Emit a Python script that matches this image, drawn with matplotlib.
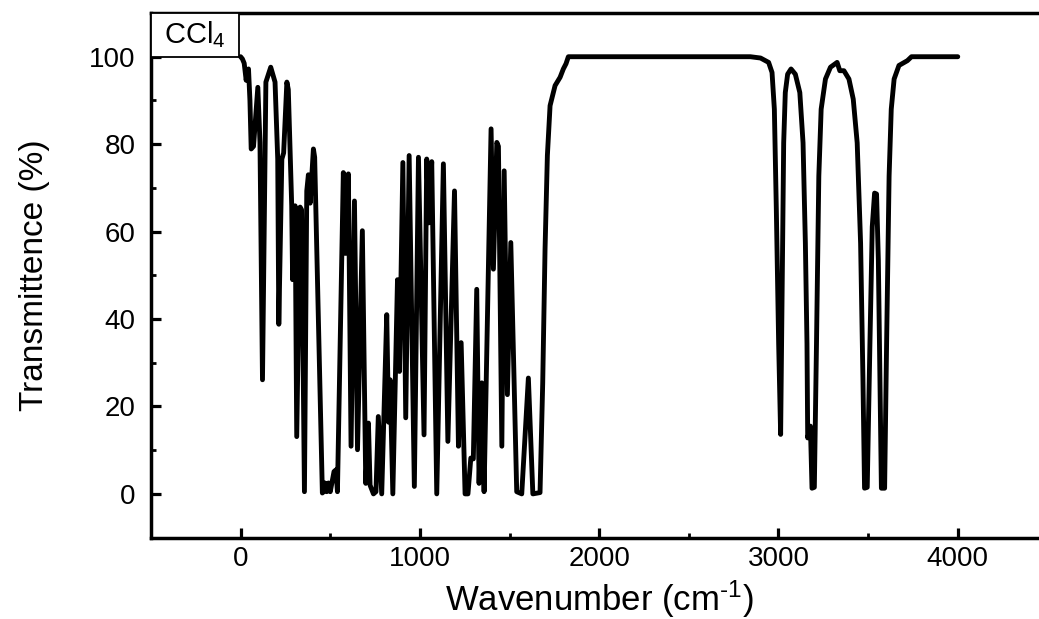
import matplotlib
matplotlib.use("Agg")
import matplotlib.pyplot as plt
from matplotlib.patches import Rectangle
from matplotlib.ticker import MultipleLocator

plt.rcParams['font.family'] = ['Liberation Sans', 'DejaVu Sans']
plt.rcParams['mathtext.fontset'] = 'custom'
plt.rcParams['mathtext.rm'] = 'Liberation Sans'
plt.rcParams['mathtext.it'] = 'Liberation Sans:italic'

# IR spectrum of CCl4 (wavenumber in cm-1, T in %)
wavenumber = [
    0, 10, 20, 31, 38, 44, 52, 59, 72, 96, 108, 122, 141, 168, 192, 207, 213,
    230, 240, 258, 266, 285, 290, 304, 313, 332, 340, 356, 369, 378, 388, 406,
    413, 456, 462, 470, 480, 490, 500, 521, 532, 540, 573, 585, 601, 616, 635,
    652, 679, 698, 713, 722, 741, 755, 768, 787, 815, 825, 834, 849, 875, 886,
    905, 921, 940, 969, 992, 1023, 1038, 1050, 1066, 1094, 1131, 1156, 1193,
    1215, 1230, 1252, 1268, 1284, 1298, 1317, 1330, 1345, 1358, 1397, 1410,
    1429, 1438, 1457, 1470, 1488, 1507, 1540, 1568, 1605, 1630, 1670, 1685,
    1698, 1711, 1726, 1754, 1782, 1800, 1815, 1828, 2843, 2900, 2945, 2964,
    2977, 2988, 3001, 3012, 3019, 3029, 3038, 3051, 3070, 3094, 3119, 3137,
    3150, 3159, 3163, 3178, 3187, 3200, 3212, 3225, 3238, 3262, 3290, 3327,
    3342, 3365, 3393, 3417, 3439, 3458, 3471, 3480, 3495, 3510, 3523, 3536,
    3547, 3557, 3566, 3574, 3592, 3603, 3617, 3629, 3645, 3672, 3719, 3742,
    4000,
]
transmittance = [
    100, 99.5, 98.5, 94.6, 97.0, 97.2, 90, 78.9, 79.5, 93.0, 80.4, 26.1, 94.2,
    97.6, 94.2, 76.6, 38.8, 76.6, 78, 94.2, 92.5, 65.9, 49, 65.9, 13.1, 65.6,
    65.0, 0.5, 69.3, 73, 66.5, 78.9, 77, 0.2, 0.5, 2.5, 0.5, 2.5, 0.5, 5.1,
    5.5, 0.5, 73.5, 55, 73.2, 10.9, 67, 10.1, 60.2, 2.4, 16.2, 2, 0, 0.5,
    17.7, 0, 41, 16.4, 26.1, 0, 49, 28, 75.8, 17.4, 77.4, 1.7, 77, 13.5,
    76.6, 62, 76, 0, 75.5, 12, 69.3, 10.9, 34.6, 0, 0, 8.2, 8, 46.8, 2.4,
    25.4, 0.5, 83.5, 51.4, 80.4, 79.5, 10.9, 73.9, 22.7, 57.5, 0.5, 0, 26.5,
    0, 0.3, 25.4, 56, 77.4, 88.8, 93.4, 95.3, 97.2, 98.4, 100, 100, 99.7,
    98.7, 96.4, 88, 65, 34.3, 13.6, 42, 80.3, 91.8, 96, 97.2, 96, 91.8, 80.3,
    57.3, 34.3, 12.8, 15.5, 1.3, 1.5, 34.3, 72.7, 88, 94.9, 97.6, 98.7, 96.8,
    96.8, 94.9, 90.3, 80.3, 57.3, 26.6, 1.3, 1.5, 34.3, 61.1, 68.8, 68.6,
    53.5, 26.6, 1.3, 1.3, 34.3, 72.7, 88, 94.9, 98, 99.1, 100, 100,
]

label_text = r'CCl$_4$'

fig = plt.figure(figsize=(10.39, 6.19), dpi=100)
# right edge of the axes lies past the figure edge, as in the cropped original
ax = fig.add_axes([0.1453, 0.1315, 0.8628, 0.8475])

ax.plot(wavenumber, transmittance, color='black', lw=3.5,
        solid_joinstyle='round', solid_capstyle='round', zorder=2)

ax.set_xlim(-500, 4500)
ax.set_ylim(-10, 110)
ax.xaxis.set_major_locator(MultipleLocator(1000))
ax.xaxis.set_minor_locator(MultipleLocator(500))
ax.yaxis.set_major_locator(MultipleLocator(20))
ax.yaxis.set_minor_locator(MultipleLocator(10))

ax.tick_params(which='major', direction='in', length=7.5, width=2.3,
               labelsize=20, top=False, right=False)
ax.tick_params(which='minor', direction='in', length=3.8, width=2.0,
               top=False, right=False)
ax.tick_params(axis='x', which='major', pad=6)
ax.tick_params(axis='y', which='major', pad=11)

for side in ['left', 'bottom', 'top', 'right']:
    ax.spines[side].set_linewidth(2.5)

ax.set_xlabel(r'Wavenumber (cm$^{\text{-1}}$)', fontsize=25, labelpad=5)
ax.set_ylabel('Transmittence (%)', fontsize=24, labelpad=28)

# sample label box in the upper left corner
box = Rectangle((-500, 100), 490, 10, facecolor='white', edgecolor='black',
                lw=1.3, zorder=3, clip_on=False)
ax.add_patch(box)
ax.text(-255, 105.0, label_text, fontsize=21, ha='center', va='center',
        zorder=4)

fig.savefig('out.png', dpi=100)
